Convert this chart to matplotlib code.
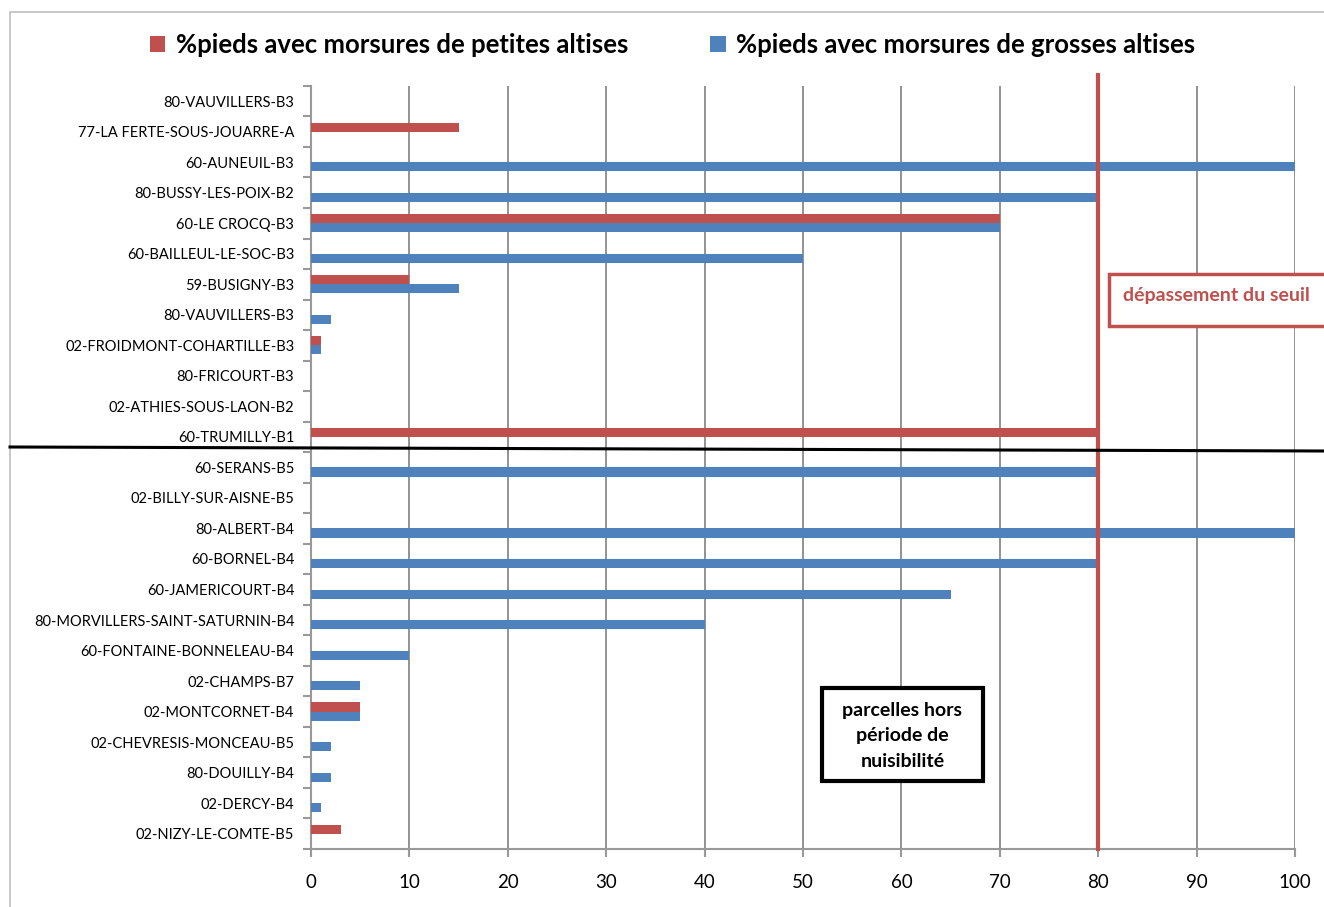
import numpy as np
import matplotlib.pyplot as plt
from matplotlib.patches import Rectangle
from matplotlib.lines import Line2D

plt.rcParams['font.family'] = ['Lato', 'DejaVu Sans']

parcelles = [
    "80-VAUVILLERS-B3", "77-LA FERTE-SOUS-JOUARRE-A", "60-AUNEUIL-B3",
    "80-BUSSY-LES-POIX-B2", "60-LE CROCQ-B3", "60-BAILLEUL-LE-SOC-B3",
    "59-BUSIGNY-B3", "80-VAUVILLERS-B3", "02-FROIDMONT-COHARTILLE-B3",
    "80-FRICOURT-B3", "02-ATHIES-SOUS-LAON-B2", "60-TRUMILLY-B1",
    "60-SERANS-B5", "02-BILLY-SUR-AISNE-B5", "80-ALBERT-B4", "60-BORNEL-B4",
    "60-JAMERICOURT-B4", "80-MORVILLERS-SAINT-SATURNIN-B4",
    "60-FONTAINE-BONNELEAU-B4", "02-CHAMPS-B7", "02-MONTCORNET-B4",
    "02-CHEVRESIS-MONCEAU-B5", "80-DOUILLY-B4", "02-DERCY-B4",
    "02-NIZY-LE-COMTE-B5",
]
petites = [0, 15, 0, 0, 70, 0, 10, 0, 1, 0, 0, 80,
           0, 0, 0, 0, 0, 0, 0, 0, 5, 0, 0, 0, 3]
grosses = [0, 0, 100, 80, 70, 50, 15, 2, 1, 0, 0, 0,
           80, 0, 100, 80, 65, 40, 10, 5, 5, 2, 2, 1, 0]
seuil = 80

RED = "#C0504D"
BLUE = "#4F81BD"

fig = plt.figure(figsize=(13.24, 9.07), dpi=100)
ax = fig.add_axes([0.2349, 0.064, 0.7433, 0.8413])

y = np.arange(len(parcelles))
h = 0.3
ax.barh(y - 0.15, petites, height=h, color=RED, zorder=3,
        label="%pieds avec morsures de petites altises")
ax.barh(y + 0.15, grosses, height=h, color=BLUE, zorder=3,
        label="%pieds avec morsures de grosses altises")

ax.set_ylim(len(parcelles) - 0.5, -0.5)
ax.set_xlim(0, 100)
ax.set_yticks(y)
ax.set_yticklabels(parcelles, fontsize=10.5)
ax.set_yticks(np.arange(len(parcelles) + 1) - 0.5, minor=True)
ax.tick_params(axis="y", which="major", length=0, pad=12)
ax.tick_params(axis="y", which="minor", length=6, width=1.5, color="#999999")
ax.set_xticks(np.arange(0, 101, 10))
ax.tick_params(axis="x", labelsize=13.5, length=6, width=1.5, color="#999999", pad=12)

ax.grid(axis="x", color="#8a8a8a", linewidth=1.3, zorder=0)
for s in ["top", "right"]:
    ax.spines[s].set_visible(False)
for s in ["left", "bottom"]:
    ax.spines[s].set_color("#999999")
    ax.spines[s].set_linewidth(1.5)

# seuil line
ax.plot([seuil, seuil], [len(parcelles) - 0.5, -0.86], color=RED, lw=3,
        zorder=4, clip_on=False)

# separation line
fig.add_artist(Line2D([10 / 1324, 1.0], [1 - 447 / 907, 1 - 451 / 907],
                      color="black", lw=2.2))

# annotation boxes
fig.add_artist(Rectangle((1109 / 1324, 1 - 326 / 907), 0.2, 52 / 907,
                         transform=fig.transFigure, fc="white", ec=RED,
                         lw=2.5, zorder=5))
fig.text(1123 / 1324, 1 - 295 / 907, "dépassement du seuil",
         ha="left", va="center", fontsize=14, fontweight="bold", color=RED,
         zorder=6)

fig.add_artist(Rectangle((822 / 1324, 1 - 781 / 907), 161 / 1324, 93 / 907,
                         transform=fig.transFigure, fc="white", ec="black",
                         lw=3, zorder=5))
fig.text(902.5 / 1324, 1 - 736 / 907, "parcelles hors\npériode de\nnuisibilité",
         ha="center", va="center", fontsize=14, fontweight="bold",
         color="black", linespacing=1.6, zorder=6)

# chart border
fig.add_artist(Rectangle((10 / 1324, -0.01), 1.0, 1 - 12 / 907 + 0.01,
                         transform=fig.transFigure, fill=False,
                         ec="#bfbfbf", lw=1.2))

fig.legend(loc="center", bbox_to_anchor=(0.508, 0.95), ncol=2, frameon=False,
           prop={"size": 18.5, "weight": "bold"}, handlelength=0.6,
           handleheight=0.6, handletextpad=0.4, columnspacing=3.2)

fig.savefig("out.png", dpi=100)
